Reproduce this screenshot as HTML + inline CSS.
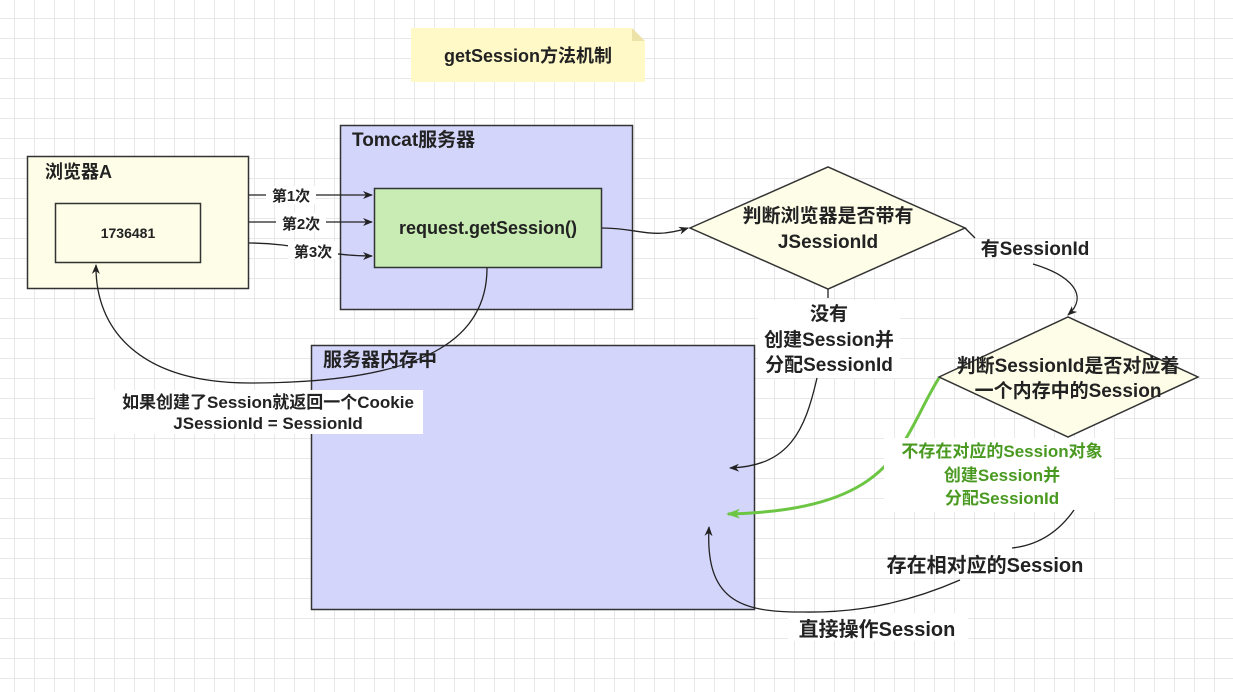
<!DOCTYPE html>
<html><head><meta charset="utf-8"><style>
html,body{margin:0;padding:0;}
body{width:1233px;height:692px;overflow:hidden;background-color:#fff;
background-image:linear-gradient(#e8e8e8 1px,transparent 1px),linear-gradient(90deg,#e8e8e8 1px,transparent 1px);
background-size:20px 20px;background-position:-6px -2px;}
svg{position:absolute;left:0;top:0;}
text{font-family:"Liberation Sans","Noto Sans CJK SC",sans-serif;font-weight:bold;fill:#222;}
</style></head><body>
<svg width="1233" height="692" viewBox="0 0 1233 692">
<defs>
<marker id="a" markerWidth="10" markerHeight="10" refX="9" refY="5" orient="auto" markerUnits="userSpaceOnUse"><path d="M0,1 L10,5 L0,9 L3,5Z" fill="#222"/></marker>
<marker id="g" markerWidth="14" markerHeight="12" refX="12" refY="6" orient="auto" markerUnits="userSpaceOnUse"><path d="M0,1 L14,6 L0,11 L4,6Z" fill="#6cc644"/></marker>
</defs>
<path d="M411,28 H632 L645,41 V82 H411Z" fill="#fff9c8"/>
<path d="M632,28 L645,41 H632Z" fill="#ece3a8"/>
<text x="528" y="62" font-size="18" text-anchor="middle">getSession方法机制</text>

<rect x="27.5" y="156.5" width="221" height="132" fill="#fdfde8" stroke="#333" stroke-width="1.5"/>
<text x="45" y="178" font-size="18">浏览器A</text>
<rect x="55.5" y="203.5" width="145" height="59" fill="#fdfde8" stroke="#333" stroke-width="1.5"/>
<text x="128" y="238" font-size="14" text-anchor="middle">1736481</text>

<rect x="340.5" y="125.5" width="292" height="184" fill="#d3d5fb" stroke="#333" stroke-width="1.5"/>
<text x="352" y="146" font-size="19">Tomcat服务器</text>
<rect x="374.5" y="188.5" width="227" height="79" fill="#c9ecb4" stroke="#333" stroke-width="1.5"/>
<text x="488" y="234" font-size="18" text-anchor="middle">request.getSession()</text>

<path d="M249,195 H372" stroke="#222" stroke-width="1.3" fill="none" marker-end="url(#a)"/>
<path d="M249,222 H372" stroke="#222" stroke-width="1.3" fill="none" marker-end="url(#a)"/>
<path d="M249,243 C300,243 320,256 372,256" stroke="#222" stroke-width="1.3" fill="none" marker-end="url(#a)"/>
<rect x="266" y="186" width="50" height="18" fill="#fff"/><text x="291" y="201" font-size="15" text-anchor="middle">第1次</text>
<rect x="276" y="213" width="50" height="18" fill="#fff"/><text x="301" y="229" font-size="15" text-anchor="middle">第2次</text>
<rect x="288" y="241" width="50" height="18" fill="#fff"/><text x="313" y="257" font-size="15" text-anchor="middle">第3次</text>

<rect x="311.5" y="345.5" width="443" height="264" fill="#d3d5fb" stroke="#333" stroke-width="1.5"/>
<text x="323" y="366" font-size="19">服务器内存中</text>

<path d="M487,268 C487,330 440,383 250,383 C140,383 95,330 96,265" stroke="#222" stroke-width="1.3" fill="none" marker-end="url(#a)"/>
<rect x="95" y="390" width="328" height="44" fill="#fff"/>
<text x="268" y="408" font-size="17" text-anchor="middle">如果创建了Session就返回一个Cookie</text>
<text x="268" y="429" font-size="17" text-anchor="middle">JSessionId = SessionId</text>

<path d="M602,228 C640,228 650,240 688,228" stroke="#222" stroke-width="1.3" fill="none" marker-end="url(#a)"/>
<polygon points="690,228 828,167 965,228 828,289" fill="#fdfde8" stroke="#333" stroke-width="1.5"/>
<text x="828" y="222" font-size="19" text-anchor="middle">判断浏览器是否带有</text>
<text x="828" y="248" font-size="19" text-anchor="middle">JSessionId</text>

<path d="M965,228 L975,238" stroke="#222" stroke-width="1.3"/>
<text x="1035" y="255" font-size="19" text-anchor="middle">有SessionId</text>
<path d="M1033,264 C1070,275 1090,295 1068,315" stroke="#222" stroke-width="1.3" fill="none" marker-end="url(#a)"/>

<polygon points="939,377 1068,317 1198,377 1068,437" fill="#fdfde8" stroke="#333" stroke-width="1.5"/>
<text x="1068" y="372" font-size="19" text-anchor="middle">判断SessionId是否对应着</text>
<text x="1068" y="397" font-size="19" text-anchor="middle">一个内存中的Session</text>

<path d="M828,289 V298" stroke="#222" stroke-width="1.3"/>
<rect x="758" y="300" width="142" height="78" fill="#fff"/>
<text x="829" y="320" font-size="19" text-anchor="middle">没有</text>
<text x="829" y="346" font-size="19" text-anchor="middle">创建Session并</text>
<text x="829" y="371" font-size="19" text-anchor="middle">分配SessionId</text>
<path d="M817,378 C805,430 790,466 730,468" stroke="#222" stroke-width="1.3" fill="none" marker-end="url(#a)"/>

<path d="M939,378 C900,440 900,510 728,514" stroke="#6cc644" stroke-width="3" fill="none" marker-end="url(#g)"/>
<rect x="884" y="438" width="230" height="74" fill="#fff"/>
<text x="1002" y="457" font-size="17" text-anchor="middle" style="fill:#4a9a22">不存在对应的Session对象</text>
<text x="1002" y="481" font-size="17" text-anchor="middle" style="fill:#4a9a22">创建Session并</text>
<text x="1002" y="504" font-size="17" text-anchor="middle" style="fill:#4a9a22">分配SessionId</text>

<path d="M1074,510 C1060,530 1040,545 1012,548" stroke="#222" stroke-width="1.3" fill="none"/>
<text x="985" y="572" font-size="20" text-anchor="middle">存在相对应的Session</text>
<path d="M960,580 C880,615 820,612 800,612 C740,612 705,600 709,527" stroke="#222" stroke-width="1.3" fill="none" marker-end="url(#a)"/>
<rect x="788" y="613" width="180" height="28" fill="#fff"/>
<text x="877" y="636" font-size="20" text-anchor="middle">直接操作Session</text>
</svg>
</body></html>
